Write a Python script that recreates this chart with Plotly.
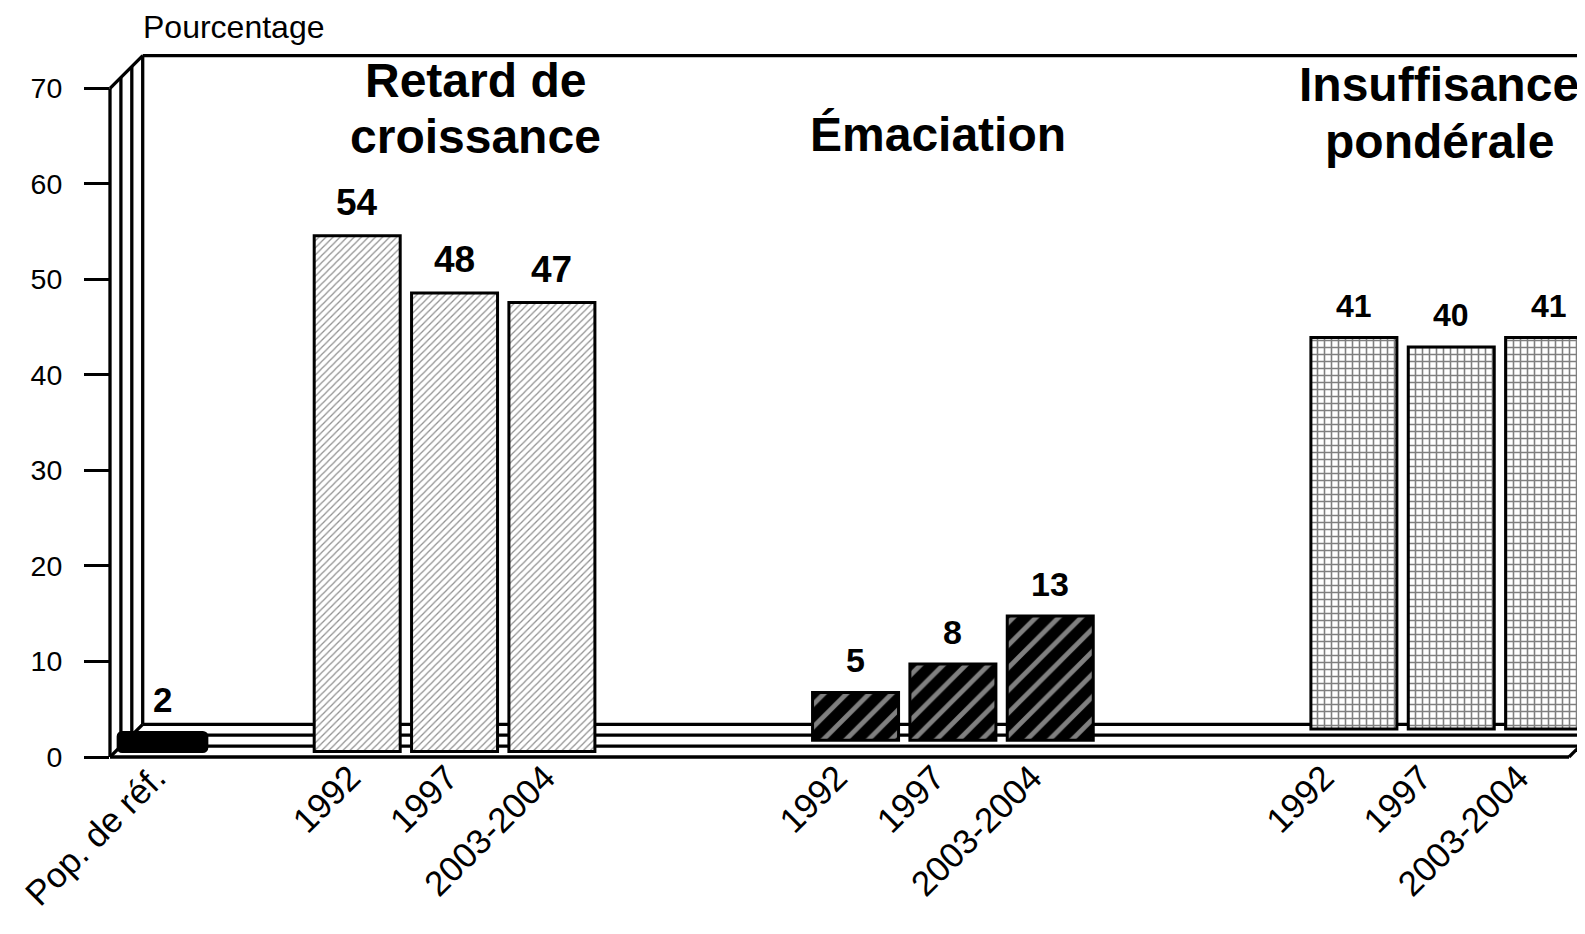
import plotly.graph_objects as go

# ---------------- data ----------------
ref_label = "Pop. de réf."
ref_value = [2]
years = ["1992", "1997", "2003-2004"]
retard = [54, 48, 47]
emaciation = [5, 8, 13]
insuffisance = [41, 40, 41]
title_retard = ["Retard de", "croissance"]
title_emaciation = ["Émaciation"]
title_insuffisance = ["Insuffisance", "pondérale"]
y_tick_values = [0, 10, 20, 30, 40, 50, 60, 70]
y_title = "Pourcentage"

# ---------------- geometry (screen pixels, page body margin = 8) ----------------
OFF = 8
W, H = 1585 - OFF, 934 - 2 * OFF
PL, PR = 110 - OFF, 1585 - OFF
PT, PB = 50 - OFF, 757 - OFF
SLOT_PX = 97.35
SLOT0_PX = 162.5 - OFF
UNIT_PX = 9.553
DEPTH_DX, DEPTH_DY = 11.6, 11.2
LABEL_DX = -7 / SLOT_PX
FONT = "Liberation Sans, Arial, sans-serif"

x_range = [(PL - SLOT0_PX) / SLOT_PX, (PR - SLOT0_PX) / SLOT_PX]
y_range = [0, (PB - PT) / UNIT_PX]

ref_slot = [0]
slots_retard = [2, 3, 4]
slots_emac = [7, 8, 9]
slots_insuf = [12, 13, 14]


def depth_x(row):
    return row * DEPTH_DX / SLOT_PX


def depth_base(row):
    return (5.5 + row * DEPTH_DY) / UNIT_PX


def px(x, y):
    # x, y given in screen coordinates of the reference
    x -= OFF
    y -= OFF
    return (x - PL) / (PR - PL), (PB - y) / (PB - PT)


fig = go.Figure()

bar_w = 86 / SLOT_PX
line = dict(color="black", width=3)

fig.add_trace(go.Bar(
    x=[s + depth_x(0) for s in ref_slot], y=ref_value,
    base=[depth_base(0)] * len(ref_value), width=88.7 / SLOT_PX,
    marker=dict(color="black", line=line, cornerradius=4),
    hoverinfo="skip", showlegend=False))

fig.add_trace(go.Bar(
    x=[s + depth_x(0) for s in slots_retard], y=retard,
    base=[depth_base(0)] * 3, width=bar_w,
    marker=dict(color="white", line=line,
                pattern=dict(shape="/", fgcolor="#222", bgcolor="white",
                             size=5, solidity=0.25)),
    hoverinfo="skip", showlegend=False))

fig.add_trace(go.Bar(
    x=[s + depth_x(1) for s in slots_emac], y=emaciation,
    base=[depth_base(1)] * 3, width=bar_w,
    marker=dict(color="black", line=line,
                pattern=dict(shape="/", fgcolor="white", bgcolor="black",
                             size=16, solidity=0.3)),
    hoverinfo="skip", showlegend=False))

fig.add_trace(go.Bar(
    x=[s + depth_x(2) for s in slots_insuf], y=insuffisance,
    base=[depth_base(2)] * 3, width=bar_w,
    marker=dict(color="white", line=line,
                pattern=dict(shape="+", fgcolor="black", bgcolor="white",
                             size=7, solidity=0.4)),
    hoverinfo="skip", showlegend=False))

# ---------------- value labels ----------------
annotations = []


def add_values(slots, vals, row, size):
    for s, v in zip(slots, vals):
        annotations.append(dict(
            x=s + depth_x(row), y=depth_base(row) + v, xref="x", yref="y",
            text="<b>%d</b>" % v, showarrow=False, yanchor="bottom",
            yshift=19.5 - 0.212 * size - 1,
            font=dict(family=FONT, size=size, color="black")))


add_values(ref_slot, ref_value, 0, 35)
add_values(slots_retard, retard, 0, 37)
add_values(slots_emac, emaciation, 1, 34)
add_values(slots_insuf, insuffisance, 2, 32)


def add_title(text, cx, baseline, size=48):
    xp, yp = px(cx, baseline + 0.212 * size + 1)
    annotations.append(dict(
        x=xp, y=yp, xref="paper", yref="paper", text="<b>%s</b>" % text,
        showarrow=False, xanchor="center", yanchor="bottom",
        font=dict(family=FONT, size=size, color="black")))


add_title(title_retard[0], 475, 98)
add_title(title_retard[1], 475.6, 153.6)
add_title(title_emaciation[0], 938, 152)
add_title(title_insuffisance[0], 1439, 102)
add_title(title_insuffisance[1], 1439, 159)

xp, yp = px(141, 39.5 + 0.212 * 32 + 1)
annotations.append(dict(
    x=xp, y=yp, xref="paper", yref="paper", text=y_title, showarrow=False,
    xanchor="left", yanchor="bottom",
    font=dict(family=FONT, size=32, color="black")))

# ---------------- 3D frame ----------------
shapes = []
LW = 3.3


def seg(x0, y0, x1, y1):
    a = px(x0, y0)
    b = px(x1, y1)
    shapes.append(dict(type="line", xref="paper", yref="paper",
                       x0=a[0], y0=a[1], x1=b[0], y1=b[1], layer="below",
                       line=dict(color="black", width=LW)))


FRONT_Y = 757
depth_total = 3 * 10.9
seg(110, 88.3, 110, FRONT_Y)
seg(110, FRONT_Y, 1569, FRONT_Y)
seg(1569, FRONT_Y, 1569 + depth_total, FRONT_Y - depth_total)
seg(110, FRONT_Y, 110 + depth_total, FRONT_Y - depth_total)
seg(110, 88.3, 110 + depth_total, 88.3 - depth_total)
seg(110 + depth_total, 88.3 - depth_total, 1700, 88.3 - depth_total)
for k in (1, 2, 3):
    d = k * 10.9
    seg(110 + d, 88.3 - d, 110 + d, FRONT_Y - d)
    seg(110 + d, FRONT_Y - d, 1569 + d, FRONT_Y - d)

fig.update_layout(
    width=W, height=H,
    margin=dict(l=PL, r=W - PR, t=PT, b=H - PB, pad=0),
    paper_bgcolor="white", plot_bgcolor="rgba(0,0,0,0)",
    barmode="overlay", showlegend=False,
    annotations=annotations, shapes=shapes,
    xaxis=dict(range=x_range, showgrid=False, zeroline=False, showline=False,
               ticks="", tickangle=-45,
               tickvals=[s + LABEL_DX for s in
                         ref_slot + slots_retard + slots_emac + slots_insuf],
               ticktext=[ref_label] + years * 3,
               tickfont=dict(family=FONT, size=35, color="black"),
               ticklabelstandoff=-8),
    yaxis=dict(range=y_range, showgrid=False, zeroline=False, showline=False,
               tickvals=y_tick_values, ticks="outside", ticklen=25,
               tickwidth=3.3, tickcolor="black",
               tickfont=dict(family=FONT, size=28.5, color="black"),
               ticklabelstandoff=16),
)

fig.write_html("out.html")
